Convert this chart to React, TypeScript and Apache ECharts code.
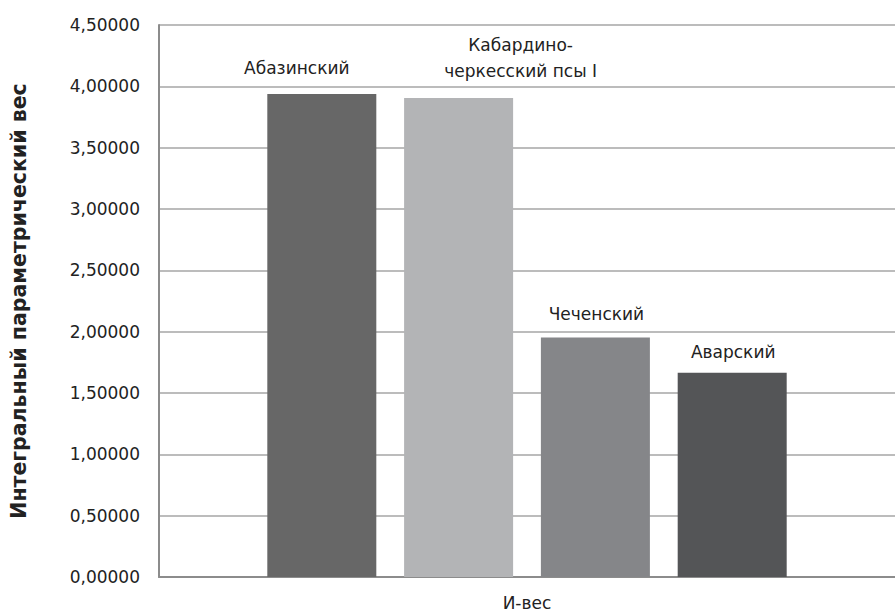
import React, { useEffect, useRef } from "react";
import * as echarts from "echarts";

const categories = ["И-вес"];
const seriesNames = ["Абазинский", "Кабардино-\nчеркесский псы I", "Чеченский", "Аварский"];
const seriesValues = [3.937, 3.904, 1.953, 1.665];
const seriesColors = ["#676767", "#b3b4b6", "#858689", "#545557"];
const labelShiftX = [-25, 62, 1, 1];
const labelDistance = [13, 14, 10, 8];
const yTicks = { min: 0, max: 4.5, interval: 0.5 };

export default function App() {
  const ref = useRef<HTMLDivElement>(null);
  useEffect(() => {
    if (!ref.current) return;
    const chart = echarts.init(ref.current, null, { renderer: "svg" });
    const font = "'DejaVu Sans', 'Open Sans', sans-serif";
    chart.setOption({
      animation: false,
      textStyle: { fontFamily: font },
      grid: { left: 149, right: -4, top: 25, bottom: 36 },
      xAxis: {
        type: "category",
        data: categories,
        axisLine: { show: true, lineStyle: { color: "#8c8c8c", width: 2 } },
        axisTick: { show: false },
        axisLabel: { color: "#222", fontSize: 17, margin: 17, fontFamily: font },
      },
      yAxis: {
        type: "value",
        min: yTicks.min,
        max: yTicks.max,
        interval: yTicks.interval,
        name: "Интегральный параметрический вес",
        nameLocation: "middle",
        nameGap: 130,
        nameRotate: 90,
        nameTextStyle: { color: "#222", fontSize: 20.5, fontWeight: "bold", fontFamily: font },
        axisLine: { show: true, lineStyle: { color: "#8c8c8c", width: 2 } },
        axisTick: { show: false },
        splitLine: { lineStyle: { color: "#a6a6a6", width: 1.5 } },
        axisLabel: {
          color: "#222",
          fontSize: 17,
          margin: 19,
          fontFamily: font,
          formatter: (v: number) => v.toFixed(5).replace(".", ","),
        },
      },
      series: seriesNames.map((name, i) => ({
        type: "bar",
        name,
        data: [seriesValues[i]],
        barWidth: 109,
        barGap: "25.5%",
        itemStyle: { color: seriesColors[i] },
        label: {
          show: true,
          position: "top",
          distance: labelDistance[i],
          offset: [labelShiftX[i], 0],
          formatter: name,
          color: "#222",
          fontSize: 17,
          lineHeight: 26,
          fontFamily: font,
        },
      })),
    });
    return () => chart.dispose();
  }, []);
  return (
    <div
      ref={ref}
      style={{ position: "absolute", left: 0, top: 0, width: 895, height: 613 }}
    />
  );
}
